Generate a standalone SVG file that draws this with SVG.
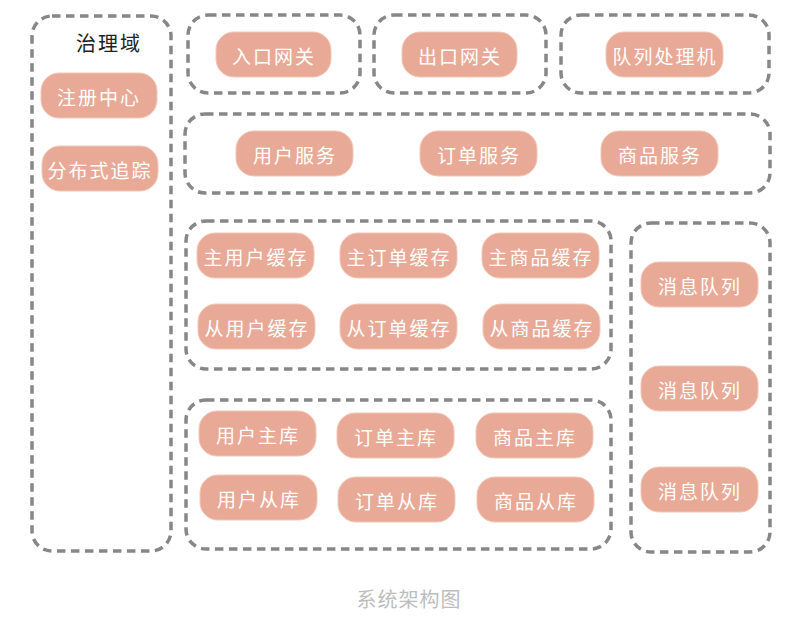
<svg xmlns="http://www.w3.org/2000/svg" width="803" height="627" viewBox="0 0 803 627">
<style>
.grp{fill:none;stroke:#878787;stroke-width:3.5;stroke-dasharray:8.5 5.5}
.nd rect{fill:#e8aa97;stroke:#f2c7b8;stroke-width:1}
.nd text{fill:#ffffff;font-family:"Noto Sans CJK SC","Noto Sans",sans-serif;font-size:19px;text-anchor:middle;dominant-baseline:central;letter-spacing:2px}
.title{fill:#222;font-family:"Noto Sans CJK SC","Noto Sans",sans-serif;font-size:20px;text-anchor:middle;dominant-baseline:central;letter-spacing:2px}
.cap{fill:#bdbdbd;font-family:"Noto Sans CJK SC","Noto Sans",sans-serif;font-size:20px;text-anchor:middle;dominant-baseline:central;letter-spacing:1px}
</style>
<rect width="803" height="627" fill="#ffffff"/>
<g id="groups">
<rect id="g-gov" class="grp" x="32" y="16" width="139" height="535" rx="20"/>
<rect id="g-in" class="grp" x="188" y="15" width="172" height="78" rx="20"/>
<rect id="g-out" class="grp" x="374" y="15" width="172" height="78" rx="20"/>
<rect id="g-qp" class="grp" x="561" y="15" width="208" height="78" rx="20"/>
<rect id="g-svc" class="grp" x="185" y="114" width="585" height="79" rx="20"/>
<rect id="g-cache" class="grp" x="186" y="221" width="425" height="148" rx="20"/>
<rect id="g-db" class="grp" x="186" y="400" width="425" height="149" rx="20"/>
<rect id="g-mq" class="grp" x="631" y="223" width="139" height="329" rx="20"/>
</g>
<text class="title" x="109" y="42">治理域</text>
<g id="n-reg" class="nd"><rect x="41" y="73" width="116" height="45" rx="18"/><text x="99" y="96">注册中心</text></g>
<g id="n-trace" class="nd"><rect x="42" y="146" width="116" height="45" rx="18"/><text x="100" y="169">分布式追踪</text></g>
<g id="n-in" class="nd"><rect x="216" y="32" width="115" height="45" rx="18"/><text x="274" y="55">入口网关</text></g>
<g id="n-out" class="nd"><rect x="402" y="32" width="115" height="45" rx="18"/><text x="460" y="55">出口网关</text></g>
<g id="n-qp" class="nd"><rect x="606" y="32" width="117" height="45" rx="18"/><text x="665" y="55">队列处理机</text></g>
<g id="n-usvc" class="nd"><rect x="236" y="131" width="117" height="45" rx="18"/><text x="295" y="154">用户服务</text></g>
<g id="n-osvc" class="nd"><rect x="420" y="131" width="117" height="45" rx="18"/><text x="479" y="154">订单服务</text></g>
<g id="n-psvc" class="nd"><rect x="601" y="131" width="117" height="45" rx="18"/><text x="660" y="154">商品服务</text></g>
<g id="n-uc1" class="nd"><rect x="197" y="233" width="117" height="45" rx="18"/><text x="256" y="256">主用户缓存</text></g>
<g id="n-oc1" class="nd"><rect x="340" y="233" width="117" height="45" rx="18"/><text x="399" y="256">主订单缓存</text></g>
<g id="n-pc1" class="nd"><rect x="482" y="233" width="117" height="45" rx="18"/><text x="541" y="256">主商品缓存</text></g>
<g id="n-uc2" class="nd"><rect x="198" y="304" width="117" height="45" rx="18"/><text x="257" y="327">从用户缓存</text></g>
<g id="n-oc2" class="nd"><rect x="340" y="304" width="117" height="45" rx="18"/><text x="399" y="327">从订单缓存</text></g>
<g id="n-pc2" class="nd"><rect x="483" y="304" width="117" height="45" rx="18"/><text x="542" y="327">从商品缓存</text></g>
<g id="n-udb1" class="nd"><rect x="199" y="411" width="117" height="45" rx="18"/><text x="258" y="434">用户主库</text></g>
<g id="n-odb1" class="nd"><rect x="337" y="413" width="117" height="45" rx="18"/><text x="396" y="436">订单主库</text></g>
<g id="n-pdb1" class="nd"><rect x="476" y="413" width="117" height="45" rx="18"/><text x="535" y="436">商品主库</text></g>
<g id="n-udb2" class="nd"><rect x="200" y="475" width="117" height="45" rx="18"/><text x="259" y="498">用户从库</text></g>
<g id="n-odb2" class="nd"><rect x="338" y="477" width="117" height="45" rx="18"/><text x="397" y="500">订单从库</text></g>
<g id="n-pdb2" class="nd"><rect x="477" y="477" width="117" height="45" rx="18"/><text x="536" y="500">商品从库</text></g>
<g id="n-mq1" class="nd"><rect x="641" y="262" width="117" height="45" rx="18"/><text x="700" y="285">消息队列</text></g>
<g id="n-mq2" class="nd"><rect x="641" y="366" width="117" height="45" rx="18"/><text x="700" y="389">消息队列</text></g>
<g id="n-mq3" class="nd"><rect x="641" y="467" width="117" height="45" rx="18"/><text x="700" y="490">消息队列</text></g>
<g id="connectors"></g>
<text class="cap" x="409" y="598">系统架构图</text>
</svg>
